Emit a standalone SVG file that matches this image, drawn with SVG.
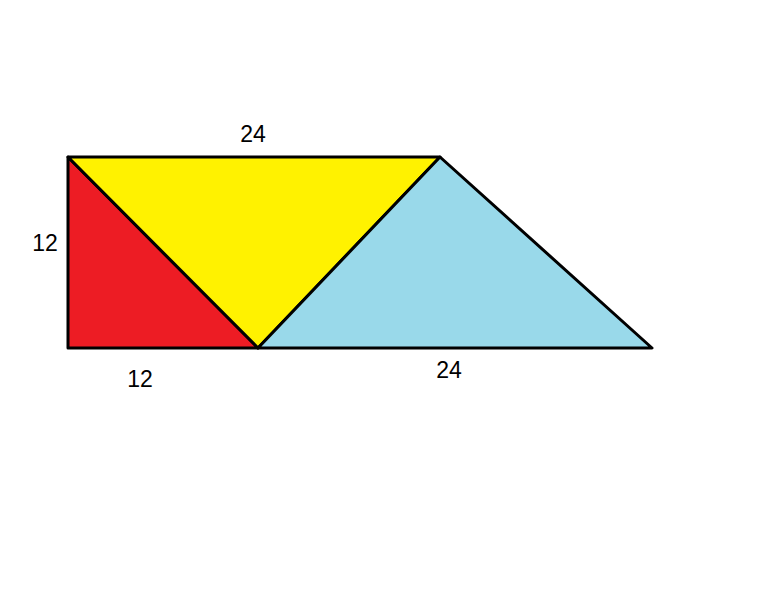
<svg xmlns="http://www.w3.org/2000/svg" width="768" height="614" viewBox="0 0 768 614">
<style>
.s{stroke:#000;stroke-width:3;stroke-linejoin:round}
.t{font-family:"Liberation Sans",Arial,sans-serif;font-size:23px;fill:#000;text-anchor:middle}
</style>
<rect width="768" height="614" fill="#fff"/>
<g id="red"><polygon class="s" points="68,157 258,348 68,348" fill="#ED1C24"/></g>
<g id="yellow"><polygon class="s" points="68,157 440,157 258,348" fill="#FFF200"/></g>
<g id="blue"><polygon class="s" points="440,157 652,348 258,348" fill="#99D9EA"/></g>
<g id="labels">
<text class="t" x="253" y="142">24</text>
<text class="t" x="45" y="251">12</text>
<text class="t" x="140" y="387">12</text>
<text class="t" x="449" y="378">24</text>
</g>
</svg>
